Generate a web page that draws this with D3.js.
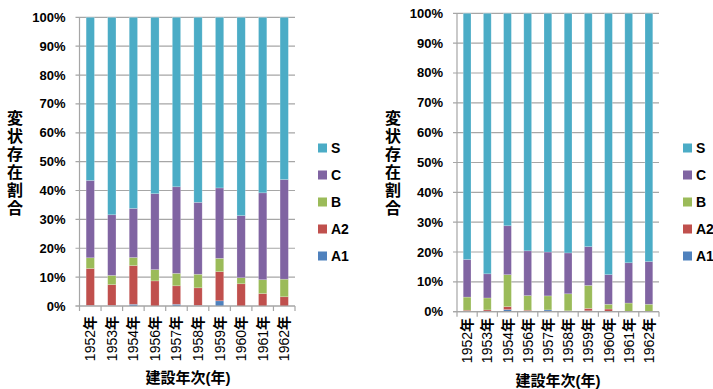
<!DOCTYPE html>
<html>
<head>
<meta charset="utf-8">
<script src="https://cdn.jsdelivr.net/npm/d3@7"></script>
<style>
  body { margin: 0; background: #fff; }
  svg text { font-family: "Liberation Sans", Arial, "Noto Sans CJK JP", sans-serif; font-weight: bold; fill: #000; }
</style>
</head>
<body>
<div id="chart"></div>
<script>
// categories / series (percent shares, each column sums to 100)
const years = ["1952年", "1953年", "1954年", "1956年", "1957年", "1958年", "1959年", "1960年", "1961年", "1962年"];
const seriesKeys = ["A1", "A2", "B", "C", "S"];
const yTicks = [0, 10, 20, 30, 40, 50, 60, 70, 80, 90, 100];

// left chart
const leftA1 = [0.2, 0.2, 0.6, 0, 0.6, 0.2, 1.8, 0, 0, 0];
const leftA2 = [12.8, 7.2, 13.4, 8.7, 6.4, 6.1, 10.1, 7.7, 4.3, 3.2];
const leftB = [3.7, 3.2, 2.8, 3.9, 4.3, 4.7, 4.6, 2.1, 4.8, 6.1];
const leftC = [26.8, 21.0, 17.0, 26.3, 30.0, 24.9, 24.4, 21.5, 30.1, 34.5];
const leftS = [56.5, 68.4, 66.2, 61.1, 58.7, 64.1, 59.1, 68.7, 60.8, 56.2];

// right chart
const rightA1 = [0, 0, 0.7, 0, 0.6, 0, 0.3, 0, 0, 0];
const rightA2 = [0.5, 0.6, 1.0, 0.5, 0, 0.3, 0.8, 0.9, 0, 0];
const rightB = [4.4, 4.0, 10.7, 4.9, 4.7, 5.7, 7.7, 1.6, 2.9, 2.5];
const rightC = [12.6, 8.1, 16.4, 15.0, 14.7, 13.7, 13.0, 9.9, 13.5, 14.3];
const rightS = [82.5, 87.3, 71.2, 79.6, 80.0, 80.3, 78.2, 87.6, 83.6, 83.2];

const colors = { A1: "#4F81BD", A2: "#C0504D", B: "#9BBB59", C: "#8064A2", S: "#4BACC6" };
const legendOrder = ["S", "C", "B", "A2", "A1"];
const yTitle = "変状存在割合";
const xTitle = "建設年次(年)";

const svg = d3.select("#chart").append("svg")
  .attr("width", 713)
  .attr("height", 389);

function makeRows(a1, a2, b, c, s) {
  return years.map((y, i) => ({ year: y, A1: a1[i], A2: a2[i], B: b[i], C: c[i], S: s[i] }));
}

function drawPanel(rows, p) {
  const g = svg.append("g");
  const x = d3.scaleBand().domain(years).range([p.x0, p.x1]).paddingInner(0.615).paddingOuter(0.3075);
  const y = d3.scaleLinear().domain([0, 100]).range([p.y0, p.y1]);

  // gridlines with small tick to the left
  g.selectAll(".grid")
    .data(yTicks)
    .join("line")
    .attr("x1", p.x0 - 4)
    .attr("x2", p.x1)
    .attr("y1", d => y(d))
    .attr("y2", d => y(d))
    .attr("stroke", "#a6a6a6")
    .attr("stroke-width", 1.2);

  // y labels
  g.selectAll(".ylab")
    .data(yTicks)
    .join("text")
    .attr("x", p.x0 - 14)
    .attr("y", d => y(d) + 4.5)
    .attr("text-anchor", "end")
    .style("font-size", "13px")
    .text(d => d + "%");

  const stacked = d3.stack().keys(seriesKeys)(rows);
  g.selectAll(".layer")
    .data(stacked)
    .join("g")
    .attr("fill", d => colors[d.key])
    .selectAll("rect")
    .data(d => d)
    .join("rect")
    .attr("x", d => x(d.data.year))
    .attr("width", x.bandwidth())
    .attr("y", d => y(d[1]))
    .attr("height", d => Math.max(0, y(d[0]) - y(d[1])))
    .attr("stroke", "#ffffff")
    .attr("stroke-opacity", 0.35)
    .attr("stroke-width", 0.6);

  // axes lines
  g.append("line")
    .attr("x1", p.x0).attr("x2", p.x0)
    .attr("y1", p.y1).attr("y2", p.y0)
    .attr("stroke", "#a6a6a6").attr("stroke-width", 1.2);
  g.append("line")
    .attr("x1", p.x0 - 4).attr("x2", p.x1)
    .attr("y1", p.y0).attr("y2", p.y0)
    .attr("stroke", "#a6a6a6").attr("stroke-width", 1.2);

  // x ticks at band edges
  const step = x.step();
  g.selectAll(".xt")
    .data(d3.range(years.length + 1))
    .join("line")
    .attr("x1", i => p.x0 + i * step)
    .attr("x2", i => p.x0 + i * step)
    .attr("y1", p.y0)
    .attr("y2", p.y0 + 5)
    .attr("stroke", "#a6a6a6")
    .attr("stroke-width", 1.2);

  // x labels (rotated), digits plain and 年 bold
  const xl = g.selectAll(".xlab")
    .data(years)
    .join("text")
    .attr("transform", d => `translate(${x(d) + x.bandwidth() / 2 + 5},${p.xLabTop}) rotate(-90)`)
    .attr("text-anchor", "end")
    .style("font-size", "14px");
  xl.append("tspan").style("font-weight", "normal").text(d => d.slice(0, 4));
  xl.append("tspan").style("font-weight", "bold").text(d => d.slice(4));

  // y title, stacked vertically
  g.selectAll(".yt")
    .data(yTitle.split(""))
    .join("text")
    .attr("x", p.yTitleX)
    .attr("y", (d, i) => 124 + i * 18)
    .attr("text-anchor", "middle")
    .style("font-size", "16px")
    .text(d => d);

  // x title
  g.append("text")
    .attr("x", p.xTitleX)
    .attr("y", p.xTitleY)
    .attr("text-anchor", "middle")
    .style("font-size", "15px")
    .text(xTitle);

  // legend
  const lg = g.selectAll(".lg")
    .data(legendOrder)
    .join("g")
    .attr("transform", (d, i) => `translate(${p.legX},${148 + i * 27})`);
  lg.append("rect")
    .attr("x", 0).attr("y", -4.5)
    .attr("width", 9).attr("height", 9)
    .attr("fill", d => colors[d]);
  lg.append("text")
    .attr("x", 13)
    .attr("y", 5)
    .style("font-size", "14px")
    .text(d => d);
}

drawPanel(makeRows(leftA1, leftA2, leftB, leftC, leftS), {
  x0: 79.5, x1: 295, y0: 306, y1: 17.3,
  xLabTop: 316, yTitleX: 15, xTitleX: 188, xTitleY: 383, legX: 318
});

drawPanel(makeRows(rightA1, rightA2, rightB, rightC, rightS), {
  x0: 457, x1: 659, y0: 311.7, y1: 13.3,
  xLabTop: 318, yTitleX: 393, xTitleX: 558, xTitleY: 386, legX: 683
});
</script>
</body>
</html>
